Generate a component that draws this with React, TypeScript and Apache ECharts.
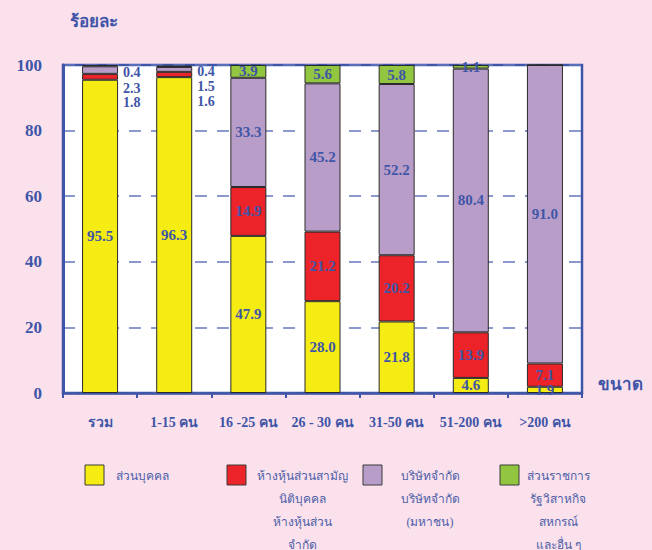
import React, { useEffect, useRef } from "react";
import * as echarts from "echarts";

const categories = ["รวม", "1-15 คน", "16 -25 คน", "26 - 30 คน", "31-50 คน", "51-200 คน", ">200 คน"];
const soleProprietor = [95.5, 96.3, 47.9, 28.0, 21.8, 4.6, 1.9];
const partnership = [1.8, 1.6, 14.9, 21.2, 20.2, 13.9, 7.1];
const company = [2.3, 1.5, 33.3, 45.2, 52.2, 80.4, 91.0];
const others = [0.4, 0.4, 3.9, 5.6, 5.8, 1.1, 0];
const seriesNames = [
  "ส่วนบุคคล",
  "ห้างหุ้นส่วนสามัญนิติบุคคล ห้างหุ้นส่วนจำกัด",
  "บริษัทจำกัด บริษัทจำกัด (มหาชน)",
  "ส่วนราชการ รัฐวิสาหกิจ สหกรณ์ และอื่น ๆ",
];
const legendLines = [
  ["ส่วนบุคคล"],
  ["ห้างหุ้นส่วนสามัญ", "นิติบุคคล", "ห้างหุ้นส่วน", "จำกัด"],
  ["บริษัทจำกัด", "บริษัทจำกัด", "(มหาชน)"],
  ["ส่วนราชการ", "รัฐวิสาหกิจ", "สหกรณ์", "และอื่น ๆ"],
];

const COLORS = ["#F4EC12", "#EC2328", "#B99DC9", "#92C640"];
const BLUE = "#3F55A7";
const FONT = "'Liberation Serif', 'DejaVu Serif', serif";

export default function App() {
  const ref = useRef<HTMLDivElement>(null);
  useEffect(() => {
    if (!ref.current) return;
    const chart = echarts.init(ref.current, null, { renderer: "svg" });

    const sideOffsets: Record<number, number[]> = { 1: [26, 27], 2: [18, 17], 3: [7, 5] };
    const makeData = (vals: number[], si: number) =>
      vals.map((v, i) => {
        if (i < 2 && si > 0) {
          return {
            value: v,
            label: {
              position: "right",
              distance: 5,
              offset: [0, sideOffsets[si][i]],
              align: "left",
              fontSize: 14,
            },
          };
        }
        return { value: v };
      });

    const seriesVals = [soleProprietor, partnership, company, others];
    const series = seriesVals.map((vals, si) => ({
      name: seriesNames[si],
      type: "bar",
      stack: "total",
      barWidth: 36,
      data: makeData(vals, si),
      itemStyle: { color: COLORS[si], borderColor: "#2a2a2a", borderWidth: 1 },
      label: {
        show: true,
        position: "inside",
        color: BLUE,
        fontFamily: FONT,
        fontWeight: "bold",
        fontSize: 15,
        formatter: (p: any) => (p.value ? Number(p.value).toFixed(1) : ""),
      },
    }));

    const legendX = [
      { sq: 85, tx: 142 },
      { sq: 227, tx: 302 },
      { sq: 363, tx: 430 },
      { sq: 500, tx: 558 },
    ];
    const graphic: any[] = [];
    legendLines.forEach((lines, i) => {
      graphic.push({
        type: "rect",
        x: legendX[i].sq,
        y: 465,
        shape: { x: 0, y: 0, width: 19, height: 20 },
        style: { fill: COLORS[i], stroke: "#3a3a3a", lineWidth: 1 },
      });
      lines.forEach((ln, j) => {
        graphic.push({
          type: "text",
          x: legendX[i].tx,
          y: 476 + j * 23,
          style: {
            text: ln,
            fill: "#4E5FA8",
            font: `12px ${FONT}`,
            textAlign: "center",
            textVerticalAlign: "middle",
          },
        });
      });
    });

    chart.setOption({
      animation: false,
      backgroundColor: "#FBE1EC",
      grid: {
        left: 63,
        right: 70,
        top: 65,
        bottom: 157,
        show: true,
        backgroundColor: "#FFFFFF",
        borderColor: BLUE,
        borderWidth: 2.5,
      },
      xAxis: {
        type: "category",
        data: categories,
        name: "ขนาด",
        nameLocation: "end",
        nameGap: 16,
        nameTextStyle: {
          color: BLUE,
          fontFamily: FONT,
          fontWeight: "bold",
          fontSize: 17,
          verticalAlign: "bottom",
        },
        axisLine: { lineStyle: { color: BLUE, width: 2.5 } },
        axisTick: { show: true, length: 5, lineStyle: { color: BLUE, width: 2 } },
        axisLabel: {
          color: BLUE,
          fontFamily: FONT,
          fontWeight: "bold",
          fontSize: 14,
          margin: 22,
          interval: 0,
        },
      },
      yAxis: {
        type: "value",
        min: 0,
        max: 100,
        interval: 20,
        name: "ร้อยละ",
        nameLocation: "end",
        nameGap: 35,
        nameTextStyle: {
          color: BLUE,
          fontFamily: FONT,
          fontWeight: "bold",
          fontSize: 17,
          align: "left",
          padding: [0, 0, 0, 7],
        },
        axisLine: { show: true, lineStyle: { color: BLUE, width: 3 } },
        axisTick: { show: false },
        axisLabel: {
          color: BLUE,
          fontFamily: FONT,
          fontWeight: "bold",
          fontSize: 17,
          margin: 21,
        },
        splitLine: { lineStyle: { color: "#6678BE", type: [12, 10], width: 1.5 } },
      },
      series,
      graphic,
    });
    return () => chart.dispose();
  }, []);
  return (
    <div
      ref={ref}
      style={{ position: "absolute", left: 0, top: 0, width: 652, height: 550 }}
    />
  );
}
